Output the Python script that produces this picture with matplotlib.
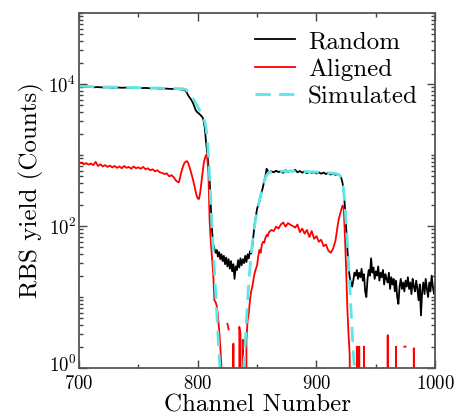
import numpy as np
import matplotlib
matplotlib.use("Agg")
import matplotlib.pyplot as plt
import matplotlib.transforms as mtransforms
from matplotlib.ticker import FixedLocator, LogLocator, MultipleLocator, NullFormatter, LogFormatterSciNotation

# ------------------------------------------------------------------
# Daten
# Random-Spektrum (schwarz)
random_ch = np.concatenate([np.arange(700, 789, 4), np.arange(790, 814), np.arange(814, 859),
                            np.arange(860, 921, 2), np.arange(921, 930), np.arange(930, 1001)])
random_counts = [
    9200, 9100, 9150, 9000, 9050, 8950, 9000, 8900, 8950, 8850, 8900, 8800,
    8850, 8750, 8800, 8700, 8750, 8600, 8650, 8550, 8500, 8450, 8350,
    # 790-813
    8000, 7400, 6900, 6500, 6200, 5800, 5400, 4900, 4400, 4100, 3950, 3850,
    3700, 3550, 3400, 3000, 2400, 1500, 1100, 700, 450, 190, 90, 55,
    # 814-858
    48, 42, 46, 37, 43, 34, 40, 32, 38, 29, 36, 27, 34, 25, 32, 23, 29, 18, 27, 24,
    33, 26, 35, 28, 34, 30, 38, 31, 40, 35, 44, 41, 52, 75, 110, 140, 175, 200, 225, 260,
    305, 360, 430, 500, 640,
    # 860-920
    560, 590, 570, 600, 575, 590, 560, 610, 580, 600, 585, 620, 570, 595, 565, 585,
    555, 580, 560, 575, 550, 570, 545, 565, 540, 560, 530, 550, 525, 540, 510,
    # 921-929
    470, 400, 300, 180, 95, 48, 26, 19, 16,
    # 930-1000
    14, 17, 22, 20, 24, 18, 22, 19, 25, 17,
    21, 12, 10, 18, 24, 20, 35, 22, 26, 18,
    23, 20, 27, 17, 22, 19, 24, 15, 21, 18,
    16, 22, 13, 19, 15, 18, 12, 17, 10, 8,
    14, 18, 13, 16, 12, 17, 14, 19, 13, 16,
    11, 18, 14, 12, 17, 13, 9, 15, 5.5, 12,
    16, 11, 18, 13, 10, 16, 12, 20, 14, 11,
    15,
]

# Aligned-Spektrum (rot), 0 = keine Counts
aligned_ch = np.concatenate([np.arange(700, 785, 2), np.arange(785, 830), np.arange(830, 861),
                             np.arange(862, 919, 2), np.arange(919, 1001)])
aligned_counts = [
    760, 780, 740, 770, 730, 760, 720, 800, 700, 740,
    690, 720, 680, 710, 670, 700, 660, 690, 650, 700,
    660, 680, 640, 690, 650, 670, 640, 680, 630, 650,
    610, 630, 590, 610, 570, 560, 540, 550, 500, 520,
    480, 430, 410,
    # 785-829
    470, 560, 640, 720, 780, 810, 820, 760, 680, 600,
    520, 450, 380, 320, 270, 245, 240, 290, 400, 560,
    750, 900, 1000, 930, 560, 120, 60, 36, 22, 9,
    8.5, 7.5, 5.5, 3.5, 2, 1, 0, 0, 0, np.nan,
    4.2, 3.5, np.nan, 0, 0,
    # 830-860
    2.2, 0, 0, 0, 0, 3.8, 3.0, 0, 2.5, 0, 0, 2.5, 4.7, 6, 9, 12, 14, 18, 22, 25,
    28, 38, 46, 42, 55, 60, 58, 68, 75, 72, 82,
    # 862-918
    88, 85, 98, 92, 105, 112, 98, 110, 104, 100, 95, 105, 82, 92, 78, 88,
    70, 85, 66, 72, 60, 64, 52, 55, 45, 42, 48, 62, 105,
    # 919-1000
    130, 150, 172, 195, 175, 70, 24, 7, 3, 1.5,
    0, 0, 0, 0, 0, 2, 0, 2, 0, 0,
    0, 2, 0, 0, 0, 0, 0, 0, 0, 0,
    0, 0, 0, 0, 0, 0, 0, 0, 0, 0,
    0, 2.9, 0, 0, 0, 0, 0, 0, 2, 0,
    0, 0, 0, 0, np.nan, 2, 2, np.nan, 0, 0,
    0, 0, 0, 1.9, 0, 0, 0, 0, 0, 0,
    0, 0, 0, 0, 0, 0, 0, 0, 0, 0,
    0, 0,
]

# Simulation (cyan, gestrichelt)
sim_ch = [700, 720, 740, 760, 780, 788, 790, 792, 794, 796, 798, 800, 802, 804, 806,
          807, 808, 809, 810, 811, 812, 813, 814, 815, 816, 817, 818, 819, 820, 836,
          838, 839, 840, 841, 842, 843, 844, 845, 846, 847, 848, 850, 852, 854, 856,
          858, 860, 870, 880, 890, 900, 910, 916, 918, 920, 921, 922, 923, 924, 925,
          926, 927, 928, 929, 930, 931, 932, 933, 934, 950, 1000]
sim_counts = [9300, 9100, 8950, 8800, 8650, 8550, 8350, 7700, 7000, 6300, 5500, 4800, 4100, 3500, 2900,
              2400, 1700, 1000, 500, 220, 100, 50, 25, 12, 6, 3, 1.6, 0.8, 0, 0,
              0.6, 1.2, 2.2, 4.5, 9, 16, 26, 40, 58, 80, 105, 160, 230, 320, 430,
              520, 570, 590, 595, 585, 575, 560, 550, 535, 505, 470, 400, 300, 190, 110,
              60, 30, 15, 7, 3.5, 1.7, 0.9, 0, 0, 0, 0]

x_ticks = [700, 800, 900, 1000]
y_ticks = [1, 1e2, 1e4]

# ------------------------------------------------------------------
plt.rcParams['font.family'] = ['cmr10', 'DejaVu Serif']
plt.rcParams['mathtext.fontset'] = 'cm'
plt.rcParams['axes.formatter.use_mathtext'] = True

fig = plt.figure(figsize=(4.62, 4.17), dpi=100)
ax = fig.add_axes([0.171, 0.1175, 0.771, 0.8513])

ax.plot(random_ch, random_counts, color='black', lw=1.3, label='Random')
ax.plot(aligned_ch, aligned_counts, color='red', lw=1.3, label='Aligned')
ax.plot(sim_ch, sim_counts, color='#5ce6e6', lw=2.0, dashes=(5.5, 3), label='Simulated')

ax.set_yscale('log')
ax.set_xlim(700, 1000)
ax.set_ylim(1, 1e5)

ax.xaxis.set_major_locator(FixedLocator(x_ticks))
ax.xaxis.set_minor_locator(MultipleLocator(50))
ax.yaxis.set_major_locator(FixedLocator(y_ticks))
ax.yaxis.set_major_formatter(LogFormatterSciNotation())
ax.yaxis.set_minor_locator(LogLocator(base=10, subs=np.arange(1, 10), numticks=20))
ax.yaxis.set_minor_formatter(NullFormatter())

ax.tick_params(which='both', direction='in', top=True, right=True, colors='#444444',
               labelcolor='black', labelsize=13.5, width=1.0)
ax.tick_params(which='major', length=6)
ax.tick_params(which='minor', length=3)
ax.tick_params(axis='x', which='major', pad=5)
ax.tick_params(axis='y', which='major', pad=2)
for sp in ax.spines.values():
    sp.set_color('#555555')
    sp.set_linewidth(1.3)

# 10^0 etwas anheben, damit es nicht mit "700" kollidiert
fig.canvas.draw()
shift = mtransforms.ScaledTranslation(0, 3 / 72, fig.dpi_scale_trans)
lbl0 = ax.yaxis.get_majorticklabels()[0]
lbl0.set_transform(lbl0.get_transform() + shift)

ax.set_xlabel('Channel Number', fontsize=18, labelpad=1)
ax.set_ylabel('RBS yield (Counts)', fontsize=18, labelpad=3)

ax.legend(loc='upper right', frameon=False, fontsize=18, handlelength=1.6,
          handletextpad=0.5, labelspacing=0.2, borderaxespad=0.3)

fig.savefig('out.png', dpi=100)
